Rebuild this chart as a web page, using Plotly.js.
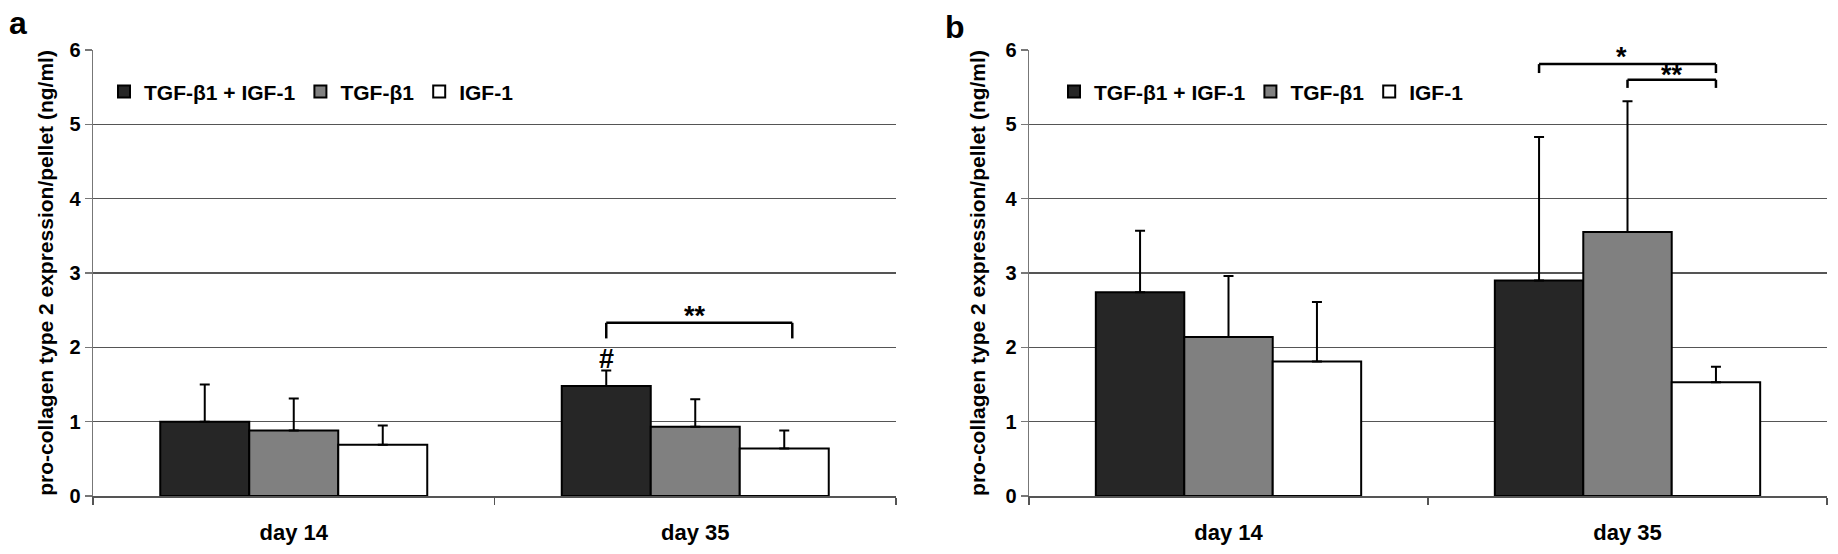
<!DOCTYPE html>
<html>
<head>
<meta charset="utf-8">
<script src="https://cdn.plot.ly/plotly-3.0.1.min.js"></script>
<style>
  html, body { margin: 0; padding: 0; background: #fff; }
  #chart { width: 1838px; height: 554px; }
</style>
</head>
<body>
<div id="chart"></div>
<script>
// data (ng/ml per pellet, mean and upper SD)
const days = ["day 14", "day 35"];
const seriesNames = ["TGF-\u03b21 + IGF-1", "TGF-\u03b21", "IGF-1"];

// panel a
const aCombo = [1.00, 1.48];
const aCombo_sd = [0.50, 0.21];
const aTgf = [0.88, 0.93];
const aTgf_sd = [0.43, 0.37];
const aIgf = [0.69, 0.64];
const aIgf_sd = [0.26, 0.24];

// panel b
const bCombo = [2.74, 2.90];
const bCombo_sd = [0.83, 1.93];
const bTgf = [2.14, 3.55];
const bTgf_sd = [0.82, 1.76];
const bIgf = [1.81, 1.53];
const bIgf_sd = [0.80, 0.21];

const fills = ["#262626", "#808080", "#ffffff"];
const FONT = "Liberation Sans, Arial, sans-serif";
const BARGAP = 0.335;
const OFF = (1 - BARGAP) / 3;   // bar centre offset inside a category

function bar(name, y, sd, i, xa, ya, leg) {
  return {
    type: "bar", name: name, x: days, y: y,
    xaxis: xa, yaxis: ya, legend: leg,
    marker: { color: fills[i], line: { color: "#000", width: 2 } },
    error_y: { type: "data", symmetric: false, array: sd, arrayminus: sd.map(() => 0),
               color: "#000", thickness: 2, width: 5 }
  };
}

const traces = [
  bar(seriesNames[0], aCombo, aCombo_sd, 0, "x", "y", "legend"),
  bar(seriesNames[1], aTgf, aTgf_sd, 1, "x", "y", "legend"),
  bar(seriesNames[2], aIgf, aIgf_sd, 2, "x", "y", "legend"),
  bar(seriesNames[0], bCombo, bCombo_sd, 0, "x2", "y2", "legend2"),
  bar(seriesNames[1], bTgf, bTgf_sd, 1, "x2", "y2", "legend2"),
  bar(seriesNames[2], bIgf, bIgf_sd, 2, "x2", "y2", "legend2")
];

function yax(dom, standoff) {
  return {
    range: [0, 6], dtick: 1, tick0: 0, anchor: dom,
    showgrid: true, gridcolor: "#555", gridwidth: 1.5,
    showline: true, linecolor: "#777", linewidth: 1.5,
    ticks: "outside", ticklen: 7, tickcolor: "#777", tickwidth: 1.5,
    tickfont: { family: FONT, size: 20, color: "#000", weight: "bold" },
    zeroline: false,
    title: { text: "pro-collagen type 2 expression/pellet (ng/ml)", standoff: standoff,
             font: { family: FONT, size: 21, color: "#000", weight: "bold" } }
  };
}
function xax(dom, anchor) {
  return {
    domain: dom, anchor: anchor, type: "category",
    showline: true, linecolor: "#555", linewidth: 1.5,
    ticks: "outside", tickson: "boundaries", ticklen: 7, tickcolor: "#555", tickwidth: 1.5,
    ticklabelstandoff: 16,
    tickfont: { family: FONT, size: 22, color: "#000", weight: "bold" }
  };
}

function bracket(xr, yr, x0, x1, yTop, yEnd) {
  const ln = { color: "#000", width: 2.5 };
  return [
    { type: "line", xref: xr, yref: yr, x0: x0, x1: x1, y0: yTop, y1: yTop, line: ln },
    { type: "line", xref: xr, yref: yr, x0: x0, x1: x0, y0: yTop, y1: yEnd, line: ln },
    { type: "line", xref: xr, yref: yr, x0: x1, x1: x1, y0: yTop, y1: yEnd, line: ln }
  ];
}

const shapes = [].concat(
  bracket("x", "y", 1 - OFF, 1 + OFF + 0.02, 2.33, 2.12),
  bracket("x2", "y2", 1 - OFF, 1 + OFF, 5.81, 5.69),
  bracket("x2", "y2", 1, 1 + OFF, 5.60, 5.49)
);

const starFont = { family: FONT, size: 27, color: "#000", weight: "bold" };
const panelFont = { family: FONT, size: 32, color: "#000", weight: "bold" };
const annotations = [
  { xref: "x", yref: "y", x: 1, y: 2.42, text: "**", showarrow: false, font: starFont },
  { xref: "x", yref: "y", x: 1 - OFF, y: 1.84, text: "#", showarrow: false,
    font: { family: FONT, size: 27, color: "#000", weight: "bold" } },
  { xref: "x2", yref: "y2", x: 1 - 0.015, y: 5.91, text: "*", showarrow: false, font: starFont },
  { xref: "x2", yref: "y2", x: 1 + OFF / 2, y: 5.66, text: "**", showarrow: false, font: starFont },
  { xref: "paper", yref: "paper", x: 18 / 1838, y: 1 + 27 / 446, xanchor: "center", yanchor: "middle",
    text: "a", showarrow: false, font: panelFont },
  { xref: "paper", yref: "paper", x: 955 / 1838, y: 1 + 23 / 446, xanchor: "center", yanchor: "middle",
    text: "b", showarrow: false, font: panelFont }
];

const legFont = { family: FONT, size: 21, color: "#000", weight: "bold" };
const layout = {
  width: 1838, height: 554,
  margin: { l: 0, r: 0, t: 50, b: 58 },
  paper_bgcolor: "#fff", plot_bgcolor: "#fff",
  barmode: "group", bargap: BARGAP, bargroupgap: 0,
  xaxis: xax([93 / 1838, 896 / 1838], "y"),
  yaxis: yax("x", 10),
  xaxis2: xax([1029 / 1838, 1827 / 1838], "y2"),
  yaxis2: yax("x2", 14),
  legend: { orientation: "h", x: 104 / 1838, y: 0.906, xanchor: "left", yanchor: "middle",
            font: legFont, itemwidth: 30, bgcolor: "rgba(0,0,0,0)" },
  legend2: { orientation: "h", x: 1054 / 1838, y: 0.906, xanchor: "left", yanchor: "middle",
             font: legFont, itemwidth: 30, bgcolor: "rgba(0,0,0,0)" },
  shapes: shapes,
  annotations: annotations
};

Plotly.newPlot("chart", traces, layout, { staticPlot: true });
</script>
</body>
</html>
